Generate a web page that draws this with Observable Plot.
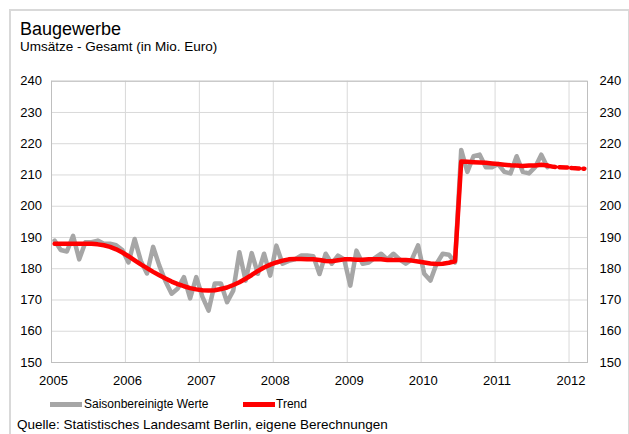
<!DOCTYPE html>
<html><head><meta charset="utf-8">
<script src="https://cdn.jsdelivr.net/npm/d3@7"></script>
<script src="https://cdn.jsdelivr.net/npm/@observablehq/plot@0.6"></script>
<style>
body{margin:0;background:#fff;}
#wrap{position:relative;width:629px;height:434px;overflow:hidden;font-family:"Liberation Sans",Arial,sans-serif;color:#000;background:#fff;}
#border{position:absolute;left:9px;top:9px;width:617px;height:440px;border:2px solid #d9d9d9;}
.t{position:absolute;white-space:nowrap;line-height:1;}
#chart{position:absolute;left:0;top:62px;}
.sw{position:absolute;height:5px;}
</style></head><body>
<div id="wrap">
<div id="border"></div>
<div class="t" style="left:20px;top:19.8px;font-size:18px">Baugewerbe</div>
<div class="t" style="left:20px;top:40px;font-size:13.5px">Umsätze - Gesamt (in Mio. Euro)</div>
<div id="chart"></div>
<div class="sw" style="left:50px;top:401.5px;width:32px;background:#a6a6a6"></div>
<div class="t" style="left:84px;top:398px;font-size:12px">Saisonbereinigte Werte</div>
<div class="sw" style="left:243px;top:401.5px;width:32px;background:#ff0000"></div>
<div class="t" style="left:276px;top:398px;font-size:12px">Trend</div>
<div class="t" style="left:17px;top:418.4px;font-size:13.5px">Quelle: Statistisches Landesamt Berlin, eigene Berechnungen</div>
</div>
<script>
// Monthly data starting January 2005
const startYear = 2005;
const saisonbereinigt = [
  189, 186, 185.5, 190.5, 183, 188.5, 188.5, 189, 188, 188, 187.5, 186,
  182, 189.5, 182.5, 178.5, 187, 181, 176, 172, 173.7, 177.3, 170.5, 177.3,
  171, 166.6, 175.3, 175.3, 169.3, 173, 185.3, 176.2, 185, 178.4, 184.8, 177.8,
  187.4, 181.6, 182.5, 183, 184.2, 184.2, 184, 178.3, 184.8, 181.6, 184.2, 183,
  174.6, 185.8, 181.6, 182, 183.5, 184.8, 183, 184.8, 183, 181.6, 183, 187.5,
  178.4, 176.2, 181.6, 184.8, 184.5, 182, 218, 211, 216, 216.5, 212.5, 212.5,
  213.5, 211, 210.5, 216, 211, 210.5, 212.5, 216.5, 212.5
];
const trend = [
  188, 188, 188, 188, 188, 188, 188, 187.8, 187.5, 187, 186.2, 185.2,
  184, 182.7, 181.4, 180.2, 179, 177.9, 176.9, 175.9, 175.1, 174.4, 173.8, 173.4,
  173.1, 173, 173.1, 173.5, 174, 174.8, 175.7, 176.8, 178, 179.3, 180.4, 181.3,
  182, 182.6, 183, 183.1, 183.1, 183, 183, 182.8, 182.5, 182.4, 182.7, 183,
  183, 182.9, 182.9, 183, 183, 183, 182.8, 182.8, 182.8, 182.8, 182.6, 182.3,
  182, 181.7, 181.5, 181.6, 181.9, 182.4, 214.3, 214.2, 214.1, 214, 213.9, 213.7,
  213.5, 213.3, 213.1, 213, 212.9, 213, 213, 213.3, 213
];
const trendPrognose = [213, 212.6, 212.5, 212.4, 212.2, 212.1, 212];
const prognoseStart = trend.length - 1;
const yearTicks = [2005, 2006, 2007, 2008, 2009, 2010, 2011, 2012];
const yTicks = [150, 160, 170, 180, 190, 200, 210, 220, 230, 240];
const xDomain = [2005, 2012.25];
const yDomain = [150, 240];

const monthX = (offset) => (d, i) => startYear + (offset + i + 0.5) / 12;

const chart = Plot.plot({
  width: 629,
  height: 330,
  marginTop: 18.7,
  marginBottom: 30,
  marginLeft: 51,
  marginRight: 42,
  style: {fontFamily: '"Liberation Sans", Arial, sans-serif', fontSize: "13px", background: "transparent", color: "#000"},
  x: {domain: xDomain, axis: null},
  y: {domain: yDomain, axis: null},
  marks: [
    Plot.gridY(yTicks, {stroke: "#d9d9d9", strokeOpacity: 1}),
    Plot.gridX(yearTicks, {stroke: "#d9d9d9", strokeOpacity: 1}),
    Plot.frame({stroke: "#bfbfbf"}),
    Plot.axisY(yTicks, {anchor: "left", tickSize: 0, tickPadding: 9.5, label: null}),
    Plot.axisY(yTicks, {anchor: "right", tickSize: 0, tickPadding: 12, label: null}),
    Plot.axisX(yearTicks, {anchor: "bottom", tickSize: 0, tickPadding: 13, dx: 2, label: null, tickFormat: d => String(d)}),
    Plot.line(saisonbereinigt, {x: monthX(0), y: d => d, stroke: "#a6a6a6", strokeWidth: 4.5, strokeLinejoin: "round"}),
    Plot.line(trend, {x: monthX(0), y: d => d, stroke: "#ff0000", strokeWidth: 4.5, strokeLinejoin: "round"}),
    Plot.line(trendPrognose, {x: monthX(prognoseStart), y: d => d, stroke: "#ff0000", strokeWidth: 4.5, strokeDasharray: "8,4"})
  ]
});
document.getElementById("chart").appendChild(chart);
</script>
</body></html>
